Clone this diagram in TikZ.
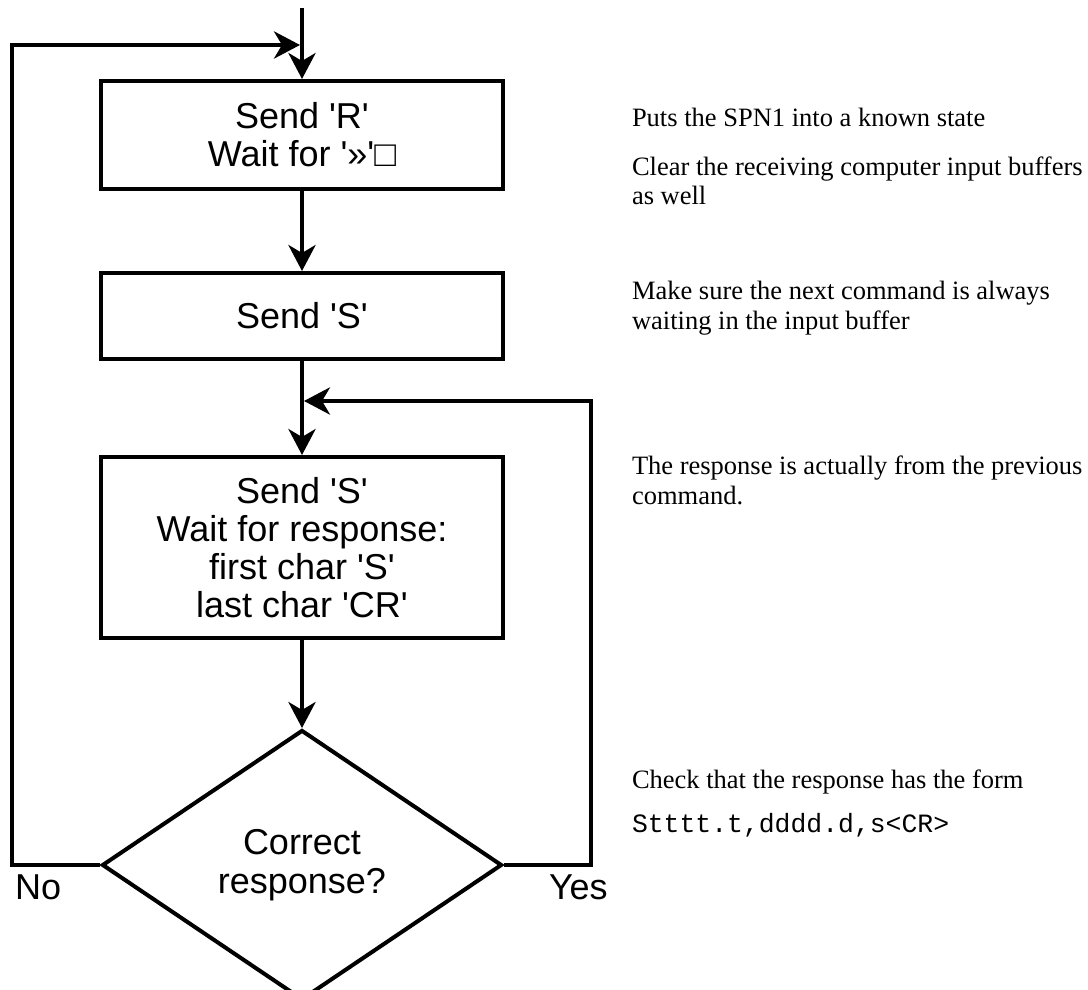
\documentclass[tikz,border=0pt]{standalone}
\usepackage{fontspec}
\setmainfont{Liberation Serif}
\setsansfont{Liberation Sans}[Ligatures=TeXOff]
\setmonofont{Liberation Mono}[Ligatures=TeXOff]
\usepackage{tikz}
\usetikzlibrary{shapes.geometric, arrows.meta, positioning}

\begin{document}
\begin{tikzpicture}[line width=0.1cm]
\tikzstyle{block} = [rectangle, draw, align=center, inner sep=0pt, minimum width=10.05cm, font=\sffamily\fontsize{25.6pt}{27pt}\selectfont]
\tikzstyle{decision} = [diamond, draw, align=center, inner sep=0pt, aspect=1.48, minimum width=10cm, minimum height=6.75cm, font=\sffamily\fontsize{25.6pt}{28pt}\selectfont]
\tikzstyle{note} = [anchor=base west, align=left, inner sep=0pt, font=\rmfamily\fontsize{18.85pt}{21.3pt}\selectfont]
\tikzstyle{answer} = [anchor=base west, inner sep=0pt, font=\sffamily\fontsize{25.6pt}{27pt}\selectfont]
\tikzstyle{line} = [draw, -{Stealth[length=0.65cm, width=0.68cm, inset=0.2cm]}]

\useasboundingbox (0,0) rectangle (27.2,-24.75);

\node [block, minimum height=2.7cm] (reset) at (7.55,-3.375) {Send 'R'\\ Wait for '»'□};
\node [block, below=2cm of reset, minimum height=2.15cm] (prime) {Send 'S'};
\node [block, below=2.35cm of prime, minimum height=4.525cm] (poll) {Send 'S'\\ Wait for response:\\ first char 'S'\\ last char 'CR'};
\node [decision, below=2.2cm of poll] (check) {Correct\\ response?};

\coordinate (entry) at (7.55,-0.2);
\coordinate (retryjoin) at (7.5,-1.125);
\coordinate (retryside) at (0.29,-1.125);
\coordinate (loopjoin) at (7.6,-10.025);
\coordinate (loopside) at (14.775,-10.025);

\node [answer] (no) at (0.33,-22.475) {No};
\node [answer] (yes) at (13.675,-22.475) {Yes};

\node [note] (putsnote) at (15.75,-3.175) {Puts the SPN1 into a known state};
\node [note] (clearnote) at (15.75,-5.125) {Clear the receiving computer input buffers\\as well};
\node [note] (surenote) at (15.75,-8.225) {Make sure the next command is always\\waiting in the input buffer};
\node [note] (prevnote) at (15.75,-12.6) {The response is actually from the previous\\command.};
\node [note] (formnote) at (15.75,-19.7) {Check that the response has the form};
\node [note, font=\ttfamily\fontsize{18.8pt}{21pt}\selectfont] (codenote) at (15.75,-20.8) {Stttt.t,dddd.d,s<CR>};

\draw [line] (entry) -- (reset);
\draw [line] (reset) -- (prime);
\draw [line] (prime) -- (poll);
\draw [line] (poll) -- (check);
\draw [line] (check.west) -| (retryside) -- (retryjoin);
\draw [line] (check.east) -| (loopside) -- (loopjoin);

\end{tikzpicture}
\end{document}
